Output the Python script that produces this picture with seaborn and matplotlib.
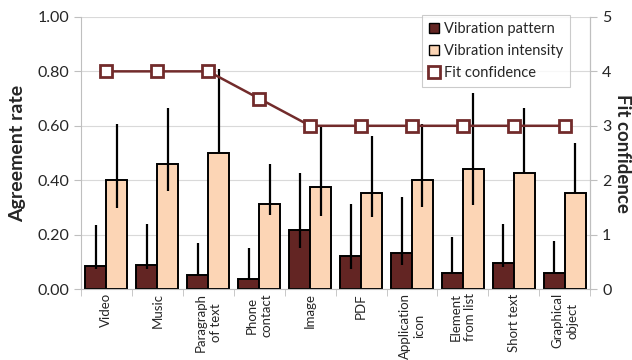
import matplotlib
matplotlib.use("Agg")
import matplotlib.pyplot as plt
from matplotlib.patches import Patch
from matplotlib.lines import Line2D
import numpy as np
import pandas as pd
import seaborn as sns

# данные
categories = ["Video", "Music", "Paragraph\nof text", "Phone\ncontact", "Image", "PDF",
              "Application\nicon", "Element\nfrom list", "Short text", "Graphical\nobject"]
pattern = [0.085, 0.089, 0.053, 0.038, 0.217, 0.121, 0.134, 0.058, 0.097, 0.058]
pattern_lo = [0.072, 0.072, 0.053, 0.038, 0.150, 0.072, 0.087, 0.058, 0.082, 0.058]
pattern_hi = [0.235, 0.239, 0.170, 0.150, 0.427, 0.312, 0.340, 0.190, 0.239, 0.175]
intensity = [0.400, 0.459, 0.499, 0.311, 0.376, 0.354, 0.400, 0.441, 0.425, 0.354]
intensity_lo = [0.298, 0.360, 0.499, 0.272, 0.270, 0.266, 0.303, 0.309, 0.425, 0.354]
intensity_hi = [0.607, 0.665, 0.807, 0.460, 0.600, 0.5625, 0.607, 0.722, 0.664, 0.535]
fit_conf = [4, 4, 4, 3.5, 3, 3, 3, 3, 3, 3]

c_pat = "#632523"
c_int = "#FCD5B5"
c_line = "#722B2B"
c_axis = "#BFBFBF"

sns.set_style("white")
plt.rcParams['font.family'] = ['Lato', 'DejaVu Sans']

df = pd.DataFrame({
    "cat": categories * 2,
    "value": pattern + intensity,
    "series": ["Vibration pattern"] * 10 + ["Vibration intensity"] * 10,
})

fig, ax = plt.subplots(figsize=(6.32, 3.6), dpi=100)
fig.subplots_adjust(left=0.128, right=0.934, top=0.953, bottom=0.197)

sns.barplot(data=df, x="cat", y="value", hue="series", order=categories,
            palette=[c_pat, c_int], saturation=1, width=0.82, errorbar=None,
            edgecolor="black", linewidth=1.4, legend=False, ax=ax, zorder=2)

# асимметричные планки погрешностей
vals = [pattern, intensity]
los = [pattern_lo, intensity_lo]
his = [pattern_hi, intensity_hi]
bar_conts = list(ax.containers)
for s, cont in enumerate(bar_conts):
    xs = [p.get_x() + p.get_width() / 2 for p in cont.patches]
    v = np.array(vals[s])
    err = [v - np.array(los[s]), np.array(his[s]) - v]
    ax.errorbar(xs, v, yerr=err, fmt="none", ecolor="black", elinewidth=1.6,
                capsize=0, zorder=3)

ax.set_ylim(0, 1.0)
ax.set_xlim(-0.5, len(categories) - 0.5)
ax.set_yticks(np.arange(0, 1.01, 0.2))
ax.set_yticklabels([f"{t:.2f}" for t in np.arange(0, 1.01, 0.2)], fontsize=11.5)
ax.yaxis.grid(True, color="#D9D9D9", linewidth=0.8)
ax.set_axisbelow(True)
ax.set_xlabel("")
ax.set_ylabel("Agreement rate", fontsize=14, fontweight="bold", labelpad=8)
ax.set_xticks(range(len(categories)))
ax.set_xticklabels(categories, rotation=90, fontsize=9.5, linespacing=1.3)
ax.tick_params(axis="x", length=0, pad=3)
ax.set_xticks(np.arange(-0.5, len(categories), 1), minor=True)
ax.tick_params(axis="x", which="minor", length=5, color=c_axis, direction="out", bottom=True)
ax.tick_params(axis="y", length=5, color=c_axis, direction="out", left=True)
for side in ["left", "bottom", "right"]:
    ax.spines[side].set_color(c_axis)
ax.spines["top"].set_visible(False)

ax2 = ax.twinx()
sns.lineplot(x=np.arange(len(categories)), y=fit_conf, ax=ax2, color=c_line,
             linewidth=1.8, marker="s", markersize=8.5, markerfacecolor="white",
             markeredgecolor=c_line, markeredgewidth=2, zorder=4)
ax2.set_ylim(0, 5)
ax2.set_yticks(range(6))
ax2.tick_params(axis="y", length=5, color=c_axis, direction="out", labelsize=11.5, right=True)
ax2.set_ylabel("Fit confidence", fontsize=13.5, fontweight="bold", rotation=-90, labelpad=14)
for sp in ax2.spines.values():
    sp.set_visible(False)
ax2.spines["right"].set_visible(True)
ax2.spines["right"].set_color(c_axis)

handles = [
    Patch(facecolor=c_pat, edgecolor="black", linewidth=1),
    Patch(facecolor=c_int, edgecolor="black", linewidth=1),
    Line2D([], [], linestyle="none", marker="s", markersize=8, markerfacecolor="white",
           markeredgecolor=c_line, markeredgewidth=2),
]
leg = ax2.legend(handles, ["Vibration pattern", "Vibration intensity", "Fit confidence"],
                 loc="upper right", bbox_to_anchor=(0.975, 1.035), fontsize=10.5,
                 frameon=True, fancybox=False, handlelength=0.7, handleheight=0.7,
                 handletextpad=0.3, labelspacing=0.55, borderpad=0.5)
leg.get_frame().set_edgecolor(c_axis)
leg.get_frame().set_linewidth(0.8)

fig.savefig("out.png", dpi=100)
